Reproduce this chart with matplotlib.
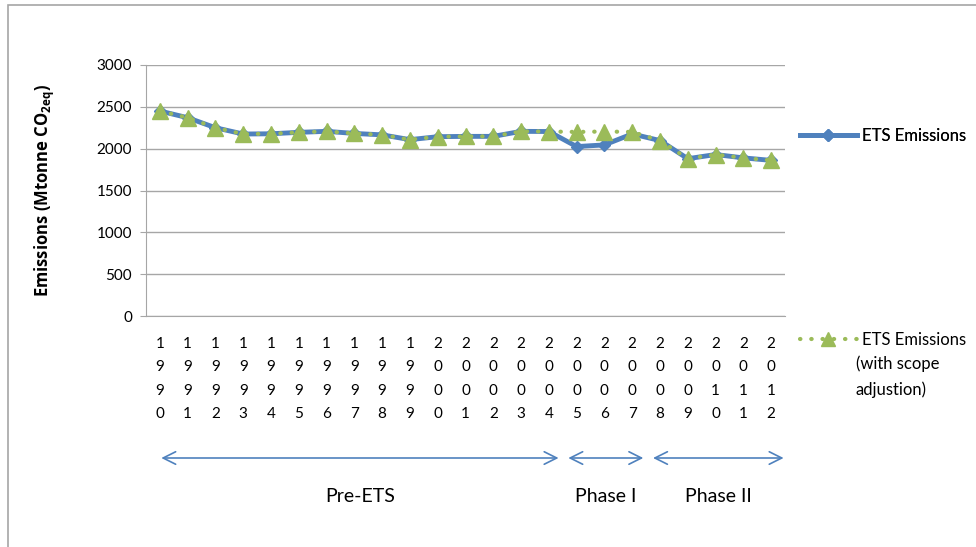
import numpy as np
import matplotlib
matplotlib.use("Agg")
from matplotlib import pyplot as plt
from matplotlib.lines import Line2D
from matplotlib.patches import Rectangle
import matplotlib.transforms as mtransforms

years = list(range(1990, 2013))
ets = [2450, 2370, 2250, 2175, 2178, 2195, 2207, 2182, 2165, 2108, 2143, 2147, 2147,
       2207, 2205, 2025, 2045, 2176, 2097, 1880, 1930, 1890, 1860]
ets_adj = [2450, 2370, 2250, 2175, 2178, 2195, 2207, 2182, 2165, 2108, 2143, 2147, 2147,
           2207, 2205, 2200, 2205, 2200, 2097, 1880, 1930, 1890, 1860]
y_ticks = [0, 500, 1000, 1500, 2000, 2500, 3000]
phases = ["Pre-ETS", "Phase I", "Phase II"]
phase_spans = [(0.05, 14.35), (14.7, 17.4), (17.75, 22.45)]

blue = "#4f81bd"
green = "#9bbb59"
grey = "#a6a6a6"
plt.rcParams['font.family'] = ['Lato', 'DejaVu Sans']
plt.rcParams['mathtext.fontset'] = 'custom'
plt.rcParams['mathtext.rm'] = 'Open Sans'
plt.rcParams['mathtext.bf'] = 'Open Sans:bold'

fig = plt.figure(figsize=(9.76, 5.47), dpi=100)
fig.patches.append(Rectangle((8 / 976, -0.1), 1.2, 1.1 - 5 / 547, transform=fig.transFigure,
                             fill=False, edgecolor=grey, lw=1.2))
ax = fig.add_axes([146 / 976, 1 - 316 / 547, (785 - 146) / 976, (316 - 65) / 547])

dots = (0, (0.1, 2.6))
x = np.arange(len(years))
ax.plot(x, ets, color=blue, lw=3.5, marker="D", ms=6, mfc=blue, mec=blue, zorder=3)
ax.plot(x, ets_adj, color=green, lw=3, ls=dots, dash_capstyle="round",
        marker="^", ms=12, mfc=green, mec=green, zorder=4)

ax.set_xlim(-0.5, len(years) - 0.5)
ax.set_ylim(0, 3000)
ax.set_yticks(y_ticks)
ax.yaxis.grid(True, color=grey, lw=1)
ax.set_axisbelow(True)
for s in ["top", "right"]:
    ax.spines[s].set_visible(False)
for s in ["left", "bottom"]:
    ax.spines[s].set_color(grey)
ax.tick_params(axis="y", length=4, color=grey, labelsize=11, pad=6)
ax.tick_params(axis="x", length=0, labelsize=11, pad=15)
ax.set_xticks(x)
ax.set_xticklabels(["\n".join(str(y)) for y in years], linespacing=1.85, va="top")

ax.set_ylabel("Emissions (Mtonne CO$_{\\mathbf{2eq}}$)", fontsize=12, fontweight="bold",
              family=["Open Sans", "DejaVu Sans"])
ax.yaxis.set_label_coords(-0.14, 0.5)

# phase arrows below the axis
trans = mtransforms.blended_transform_factory(ax.transData, fig.transFigure)
for name, (a, b) in zip(phases, phase_spans):
    ax.annotate("", xy=(a, 1 - 458 / 547), xytext=(b, 1 - 458 / 547), xycoords=trans,
                textcoords=trans, annotation_clip=False,
                arrowprops=dict(arrowstyle="<->,head_length=0.9,head_width=0.45",
                                color=blue, lw=1.2, shrinkA=0, shrinkB=0))
    ax.text((a + b) / 2, 1 - 497 / 547, name, transform=trans, ha="center", va="center",
            fontsize=14)

h1 = Line2D([], [], color=blue, lw=3.5, marker="D", ms=6)
h2 = Line2D([], [], color=green, lw=3, ls=dots, dash_capstyle="round", marker="^", ms=10)
leg1 = fig.legend([h1], ["ETS Emissions"], loc="center left",
                  bbox_to_anchor=(785 / 976, 1 - 136 / 547), frameon=False,
                  fontsize=12, handlelength=3.4, handletextpad=0.3)
leg2 = fig.legend([h2], ["ETS Emissions"], loc="center left",
                  bbox_to_anchor=(785 / 976, 1 - 340 / 547), frameon=False,
                  fontsize=12, handlelength=3.4, handletextpad=0.3)
fig.add_artist(leg1)
fig.text(856 / 976, 1 - 355 / 547, "(with scope\nadjustion)", ha="left", va="top",
         fontsize=12, linespacing=1.75)

fig.savefig("out.png", dpi=100)
